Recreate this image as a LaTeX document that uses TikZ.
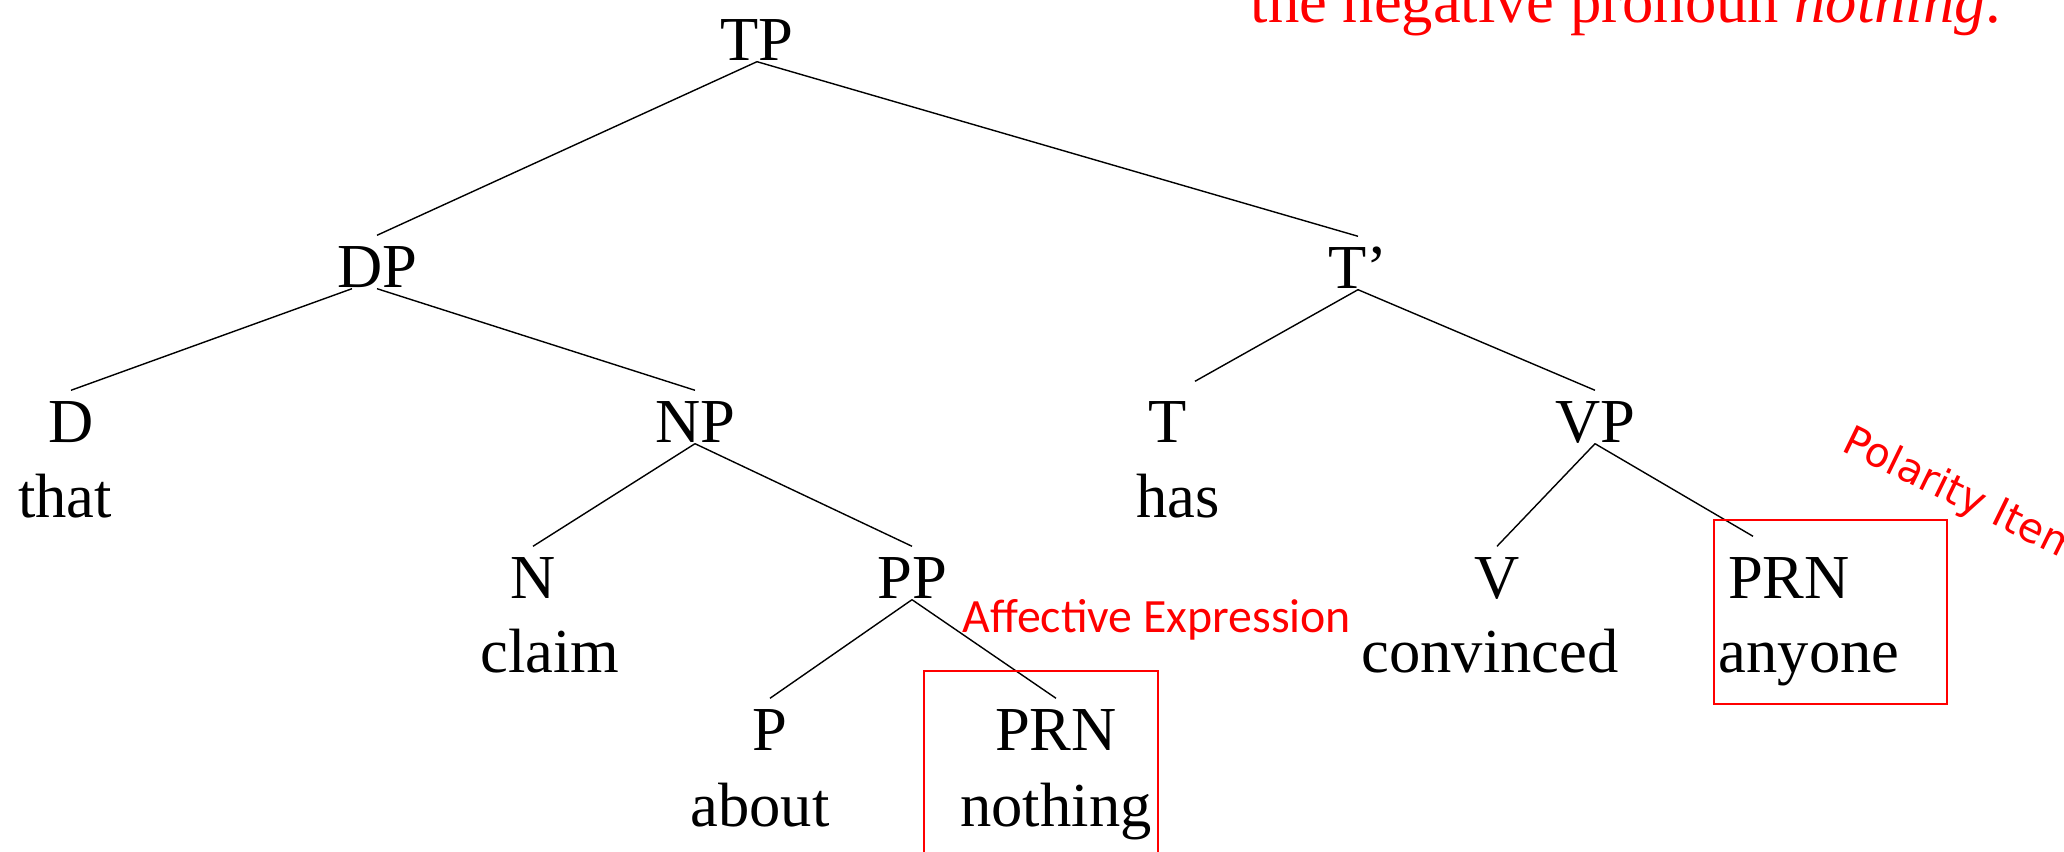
\documentclass[tikz,border=0pt]{standalone}
\usepackage{fontspec}
\setmainfont{Liberation Serif}
\newfontfamily\notefont{Carlito}
\newfontfamily\tagfont{DejaVu Sans}

\begin{document}
\begin{tikzpicture}[
  cat/.style={anchor=base, inner sep=0pt, text height=0.52cm, text depth=0pt, font=\fontsize{17.8}{20}\selectfont},
  word/.style={anchor=base, inner sep=0pt, font=\fontsize{17.8}{20}\selectfont},
  branch/.style={line width=0.4pt},
  hilite/.style={draw=red, line width=0.6pt},
  note/.style={anchor=base west, inner sep=0pt, text=red}
]
\useasboundingbox (0,0) rectangle (20.64,8.52);

% Caption (cut at the top)
\node[note, font=\fontsize{17.8}{20}\selectfont] (caption) at (12.50,8.29) {the negative pronoun \textit{nothing}.};

% Level 0 - 1
\node[cat] (TP) at (7.57,7.91) {TP};
\node[cat] (DP) at (3.77,5.64) {DP};
\node[cat] (Tbar) at (13.58,5.63) {T’};

% Level 2
\node[cat] (D) at (0.71,4.09) {D};
\node[word] (that) at (0.65,3.34) {that};
\node[cat] (NP) at (6.95,4.09) {NP};
\node[cat] (T) at (11.68,4.09) {T};
\node[word] (has) at (11.78,3.34) {has};
\node[cat] (VP) at (15.95,4.09) {VP};

% Level 3
\node[cat] (N) at (5.33,2.53) {N};
\node[word] (claim) at (5.50,1.79) {claim};
\node[cat] (PP) at (9.12,2.53) {PP};
\node[cat] (V) at (14.97,2.53) {V};
\node[word] (convinced) at (14.90,1.79) {convinced};
\node[cat] (PRNany) at (17.89,2.53) {PRN};
\node[word] (anyone) at (18.09,1.79) {anyone};

% Level 4
\node[cat] (P) at (7.70,1.01) {P};
\node[word] (about) at (7.60,0.25) {about};
\node[cat] (PRNnot) at (10.56,1.01) {PRN};
\node[word] (nothing) at (10.56,0.25) {nothing};

% Branches
\draw[branch] (TP.south) -- (DP.north);
\draw[branch] (TP.south) -- (Tbar.north);
\draw[branch] ([xshift=-0.25cm]DP.south) -- (D.north);
\draw[branch] (DP.south) -- (NP.north);
\draw[branch] (Tbar.south) -- ([shift={(0.27,0.09)}]T.north);
\draw[branch] (Tbar.south) -- (VP.north);
\draw[branch] (NP.south) -- (N.north);
\draw[branch] (NP.south) -- (PP.north);
\draw[branch] (PP.south) -- (P.north);
\draw[branch] (PP.south) -- (PRNnot.north);
\draw[branch] (VP.south) -- (V.north);
\draw[branch] (VP.south) -- ([shift={(-0.36,0.1)}]PRNany.north);

% Red marks
\draw[hilite] (9.24,1.81) rectangle (11.58,-0.2);
\draw[hilite] (17.14,3.32) rectangle (19.47,1.48);
\node[note, font=\notefont\fontsize{13.6}{15}\selectfont] (affective) at (9.62,2.19) {Affective Expression};
\node[note, font=\tagfont\fontsize{11.6}{13}\selectfont, rotate=-26] (polarity) at (18.40,4.02) {Polarity Item};

\end{tikzpicture}
\end{document}
